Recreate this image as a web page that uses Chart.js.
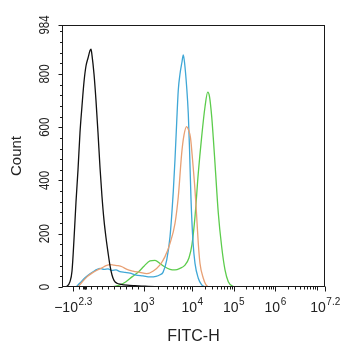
<!DOCTYPE html>
<html>
<head>
<meta charset="utf-8">
<script src="https://cdn.jsdelivr.net/npm/chart.js@4.4.1/dist/chart.umd.min.js"></script>
<style>
  html, body { margin: 0; padding: 0; background: #fff; }
  #wrap { width: 342px; height: 350px; position: relative; }
</style>
</head>
<body>
<div id="wrap"><canvas id="c" width="342" height="350"></canvas></div>
<script>
// ---- Data (x in display decades of the FITC-H axis, y = count) ----
const blackX = [0.920,0.992,1.064,1.113,1.161,1.209,1.257,1.305,1.353,1.401,1.449,1.498,1.546,1.570,1.594,1.642,1.690,1.738,1.786,1.834,1.883,1.931,1.979,2.027,2.075,2.123,2.195,2.292,2.436,2.628,2.869,3.110,3.230];
const blackY = [0,3,20,60,180,320,440,580,680,770,830,860,888,893,870,800,700,580,450,340,250,185,130,80,45,25,14,10,7,5,3,1,0];

const orangeX = [1.257,1.353,1.474,1.594,1.714,1.834,1.931,2.027,2.123,2.219,2.316,2.436,2.580,2.749,2.910,3.069,3.230,3.350,3.471,3.591,3.670,3.752,3.807,3.872,3.916,3.964,4.012,4.072,4.113,4.151,4.192,4.272,4.337,4.409];
const orangeY = [0,18,38,52,63,72,80,84,82,80,76,66,60,55,50,60,83,114,164,239,339,502,570,602,590,560,480,364,264,164,89,33,8,0];

const blueX = [1.209,1.305,1.425,1.546,1.666,1.786,1.883,1.979,2.075,2.171,2.267,2.388,2.508,2.652,2.821,2.989,3.134,3.230,3.302,3.391,3.471,3.550,3.591,3.632,3.670,3.711,3.759,3.790,3.819,3.872,3.911,3.940,3.976,4.024,4.072,4.151,4.233,4.313];
const blueY = [0,15,35,50,62,70,66,68,62,64,58,55,52,45,42,38,40,46,55,101,189,360,480,620,740,800,845,872,845,750,650,520,330,170,89,33,8,0];

const greenX = [2.075,2.267,2.412,2.556,2.701,2.845,2.989,3.110,3.230,3.350,3.471,3.591,3.711,3.831,3.928,4.000,4.072,4.151,4.233,4.313,4.378,4.421,4.474,4.512,4.553,4.633,4.714,4.794,4.873,4.994,5.058];
const greenY = [0,8,20,38,55,78,98,100,88,75,66,64,70,82,110,160,264,427,565,677,732,715,640,560,465,277,151,64,20,2,0];

// ---- Axis ticks ----
const xMin = 0.872, xMax = 7.2;
const xTickValues = [1.137, 2.833, 4, 5, 6, 7.2];
const xTickBase = ['\u221210', '10', '10', '10', '10', '10'];
const xTickExp = ['2.3', '3', '4', '5', '6', '7.2'];
const yMax = 984;
const yTickValues = [0, 200, 400, 600, 800, 984];
const yTickLabels = ['0', '200', '400', '600', '800', '984'];
const yMinorStep = 40;
// minor tick raw values (fluorescence units)
const xMinorLinear = [-100, 0, 100, 200, 300, 400, 500, 600, 700, 800, 900];
const xMinorMult = [2, 3, 4, 5, 6, 7, 8, 9];

// mapping raw fluorescence value -> display decades (biexponential-like)
function toDisplay(v) {
  if (v <= 1000) return 1.137 + (v + 200) / 1200 * (2.833 - 1.137);
  if (v <= 10000) return 2.833 + (4 - 2.833) * Math.log10(v / 1000);
  return Math.log10(v);
}

function pts(xs, ys) { return xs.map((x, i) => ({ x: x, y: ys[i] })); }

const FONT = "'Liberation Sans', Arial, sans-serif";

const decor = {
  id: 'decor',
  afterDraw(chart) {
    const { ctx, chartArea: a, scales: { x, y } } = chart;
    ctx.save();
    ctx.strokeStyle = '#1a1a1a';
    ctx.lineWidth = 1;
    // frame
    ctx.strokeRect(Math.round(a.left) + 0.5, Math.round(a.top) + 0.5,
      Math.round(a.right - a.left) - 1, Math.round(a.bottom - a.top) - 1);
    const by = Math.round(a.bottom) - 0.5;
    const lx = Math.round(a.left) + 0.5;
    // y ticks
    ctx.beginPath();
    for (let v = 0; v <= yMax; v += yMinorStep) {
      const py = Math.round(y.getPixelForValue(v)) + 0.5;
      ctx.moveTo(lx, py); ctx.lineTo(lx - 2.5, py);
    }
    yTickValues.forEach(v => {
      const py = Math.round(y.getPixelForValue(v)) + 0.5;
      ctx.moveTo(lx, py); ctx.lineTo(lx - 4, py);
    });
    ctx.stroke();
    // x minor ticks
    ctx.beginPath();
    const minors = xMinorLinear.slice();
    for (let d = 3; d <= 6; d++) xMinorMult.forEach(m => minors.push(m * Math.pow(10, d)));
    minors.push(1e7);
    minors.forEach(v => {
      const u = toDisplay(v);
      if (u < xMin || u > xMax) return;
      const px = Math.round(x.getPixelForValue(u)) + 0.5;
      const len = v === 1e7 ? 4 : 3;
      ctx.moveTo(px, by); ctx.lineTo(px, by + len);
    });
    xTickValues.forEach(u => {
      const px = Math.round(x.getPixelForValue(u)) + 0.5;
      ctx.moveTo(px, by); ctx.lineTo(px, by + 5);
    });
    ctx.stroke();
    // thick mark at zero
    const p0 = x.getPixelForValue(toDisplay(0));
    ctx.fillStyle = '#1a1a1a';
    ctx.fillRect(Math.round(p0) - 2, by, 4, 3);

    // x tick labels with superscripts
    ctx.fillStyle = '#222';
    ctx.textBaseline = 'alphabetic';
    ctx.textAlign = 'left';
    xTickValues.forEach((u, i) => {
      const px = x.getPixelForValue(u);
      ctx.font = '14px ' + FONT;
      const wb = ctx.measureText(xTickBase[i]).width;
      ctx.font = '10px ' + FONT;
      const we = ctx.measureText(xTickExp[i]).width;
      let sx = px - (wb + we) / 2;
      if (sx + wb + we > chart.width - 1) sx = chart.width - 1 - wb - we;
      ctx.font = '14px ' + FONT;
      ctx.fillText(xTickBase[i], sx, 312);
      ctx.font = '10px ' + FONT;
      ctx.fillText(xTickExp[i], sx + wb + 0.5, 305);
    });
    // y tick labels rotated (slightly condensed, as in the reference)
    ctx.font = '14px ' + FONT;
    ctx.textAlign = 'center';
    ctx.textBaseline = 'middle';
    yTickValues.forEach((v, i) => {
      const py = y.getPixelForValue(v);
      ctx.save();
      ctx.translate(45, py);
      ctx.rotate(-Math.PI / 2);
      ctx.scale(0.82, 1);
      ctx.fillText(yTickLabels[i], 0, 0);
      ctx.restore();
    });
    ctx.restore();
  }
};

const common = { borderWidth: 1.3, pointRadius: 0, fill: false, cubicInterpolationMode: 'monotone' };

new Chart(document.getElementById('c'), {
  type: 'line',
  data: {
    datasets: [
      Object.assign({ label: 'Control', data: pts(blackX, blackY), borderColor: '#111111' }, common),
      Object.assign({ label: 'Sample 2', data: pts(orangeX, orangeY), borderColor: '#e8a074' }, common),
      Object.assign({ label: 'Sample 1', data: pts(blueX, blueY), borderColor: '#3fa7d6' }, common),
      Object.assign({ label: 'Sample 3', data: pts(greenX, greenY), borderColor: '#5ccc4c' }, common)
    ]
  },
  options: {
    responsive: false,
    animation: false,
    layout: { padding: { top: 25, right: 17, left: 0, bottom: 0 } },
    plugins: { legend: { display: false }, tooltip: { enabled: false } },
    scales: {
      x: {
        type: 'linear', min: xMin, max: xMax,
        grid: { display: false }, border: { display: false },
        ticks: { display: false },
        afterFit: s => { s.height = 63; },
        title: { display: true, text: 'FITC-H', color: '#222', font: { family: FONT, size: 16 }, padding: { top: 0, bottom: 4 } }
      },
      y: {
        type: 'linear', min: 0, max: yMax,
        grid: { display: false }, border: { display: false },
        ticks: { display: false },
        afterFit: s => { s.width = 62; },
        title: { display: true, text: 'Count', color: '#222', font: { family: FONT, size: 15 }, padding: { top: 8, bottom: 0 } }
      }
    }
  },
  plugins: [decor]
});
</script>
</body>
</html>
